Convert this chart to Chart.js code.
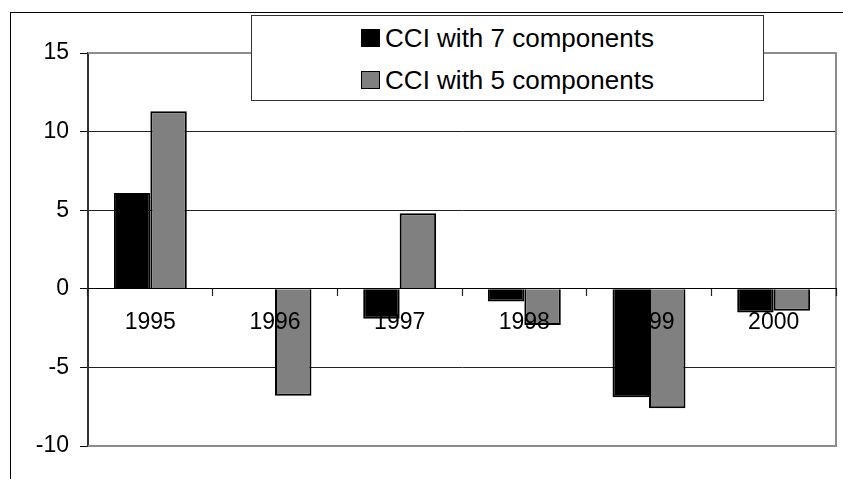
<!DOCTYPE html>
<html>
<head>
<meta charset="utf-8">
<script src="https://cdn.jsdelivr.net/npm/chart.js@4/dist/chart.umd.min.js"></script>
<style>
  html, body { margin: 0; padding: 0; background: #fff; }
  #wrap { position: relative; width: 843px; height: 479px; overflow: hidden; font-family: Arial, "Liberation Sans", sans-serif; }
  #frame { position: absolute; left: 10px; top: 12px; width: 900px; height: 500px; border-left: 1px solid #000; border-top: 1px solid #000; pointer-events: none; }
  #chart { position: absolute; left: 0; top: 0; }
  #legend { position: absolute; left: 251px; top: 15px; width: 511px; height: 84px; border: 1px solid #333; background: #fff; }
  #legend .row { position: absolute; left: 0; right: 0; height: 30px; display: flex; justify-content: center; align-items: center; font-size: 26px; color: #000; white-space: nowrap; }
  #legend .sw { width: 17px; height: 16px; border: 1px solid #000; margin-right: 5px; }
</style>
</head>
<body>
<div id="wrap">
  <canvas id="chart" width="843" height="479"></canvas>
  <div id="frame"></div>
  <div id="legend"></div>
</div>
<script>
  const years = ["1995", "1996", "1997", "1998", "1999", "2000"];
  const cci7 = [6.1, null, -1.9, -0.8, -6.9, -1.5];
  const cci5 = [11.3, -6.8, 4.8, -2.3, -7.6, -1.4];
  const yTicks = [-10, -5, 0, 5, 10, 15];

  const seriesNames = ["CCI with 7 components", "CCI with 5 components"];
  const seriesColors = ["#000000", "#808080"];

  // plot border in gray on top, right and bottom (left side is the axis)
  const plotBorder = {
    id: "plotBorder",
    beforeDatasetsDraw(chart) {
      const { ctx, chartArea: a } = chart;
      ctx.save();
      ctx.strokeStyle = "#8c8c8c";
      ctx.lineWidth = 2;
      ctx.beginPath();
      ctx.moveTo(a.left, a.top);
      ctx.lineTo(a.right, a.top);
      ctx.lineTo(a.right, a.bottom);
      ctx.lineTo(a.left, a.bottom);
      ctx.stroke();
      ctx.restore();
    },
  };

  const chart = new Chart(document.getElementById("chart"), {
    type: "bar",
    data: {
      labels: years,
      datasets: [
        { label: seriesNames[0], data: cci7, backgroundColor: seriesColors[0], borderColor: "#000", borderWidth: 2 },
        { label: seriesNames[1], data: cci5, backgroundColor: seriesColors[1], borderColor: "#000", borderWidth: 2 },
      ],
    },
    options: {
      responsive: false,
      animation: false,
      layout: { padding: { left: 0, top: 53, right: 7, bottom: 33 } },
      datasets: { bar: { barPercentage: 1, categoryPercentage: 0.585 } },
      plugins: { legend: { display: false }, tooltip: { enabled: false } },
      scales: {
        x: {
          // category axis sits on the zero line, labels just under it
          position: { y: 0 },
          offset: true,
          grid: { display: true, z: 1, drawOnChartArea: false, drawTicks: true, tickLength: 7, color: "#000", tickColor: "#222", tickWidth: 1.2, offset: true },
          border: { display: true, z: 1, color: "#000", width: 1 },
          ticks: { z: 1, color: "#000", padding: 13, font: { family: "Arial, 'Liberation Sans'", size: 23 } },
        },
        y: {
          min: -10,
          max: 15,
          afterFit(scale) { scale.width = 88; },
          afterBuildTicks(scale) { scale.ticks = yTicks.map((v) => ({ value: v })); },
          grid: {
            color: (c) => (c.tick && (c.tick.value === 15 || c.tick.value === -10) ? "rgba(0,0,0,0)" : "#222"),
            tickColor: "#000",
            tickLength: 8,
            lineWidth: 1,
          },
          border: { display: true, color: "#333", width: 2 },
          ticks: { color: "#000", padding: 11, font: { family: "Arial, 'Liberation Sans'", size: 23 } },
        },
      },
    },
    plugins: [plotBorder],
  });

  // legend built from the chart's datasets
  const legend = document.getElementById("legend");
  const rowCenters = [22, 64];
  chart.data.datasets.forEach((ds, i) => {
    const row = document.createElement("div");
    row.className = "row";
    row.style.top = rowCenters[i] - 15 + "px";
    const sw = document.createElement("span");
    sw.className = "sw";
    sw.style.background = ds.backgroundColor;
    const txt = document.createElement("span");
    txt.textContent = ds.label;
    row.appendChild(sw);
    row.appendChild(txt);
    legend.appendChild(row);
  });
</script>
</body>
</html>
